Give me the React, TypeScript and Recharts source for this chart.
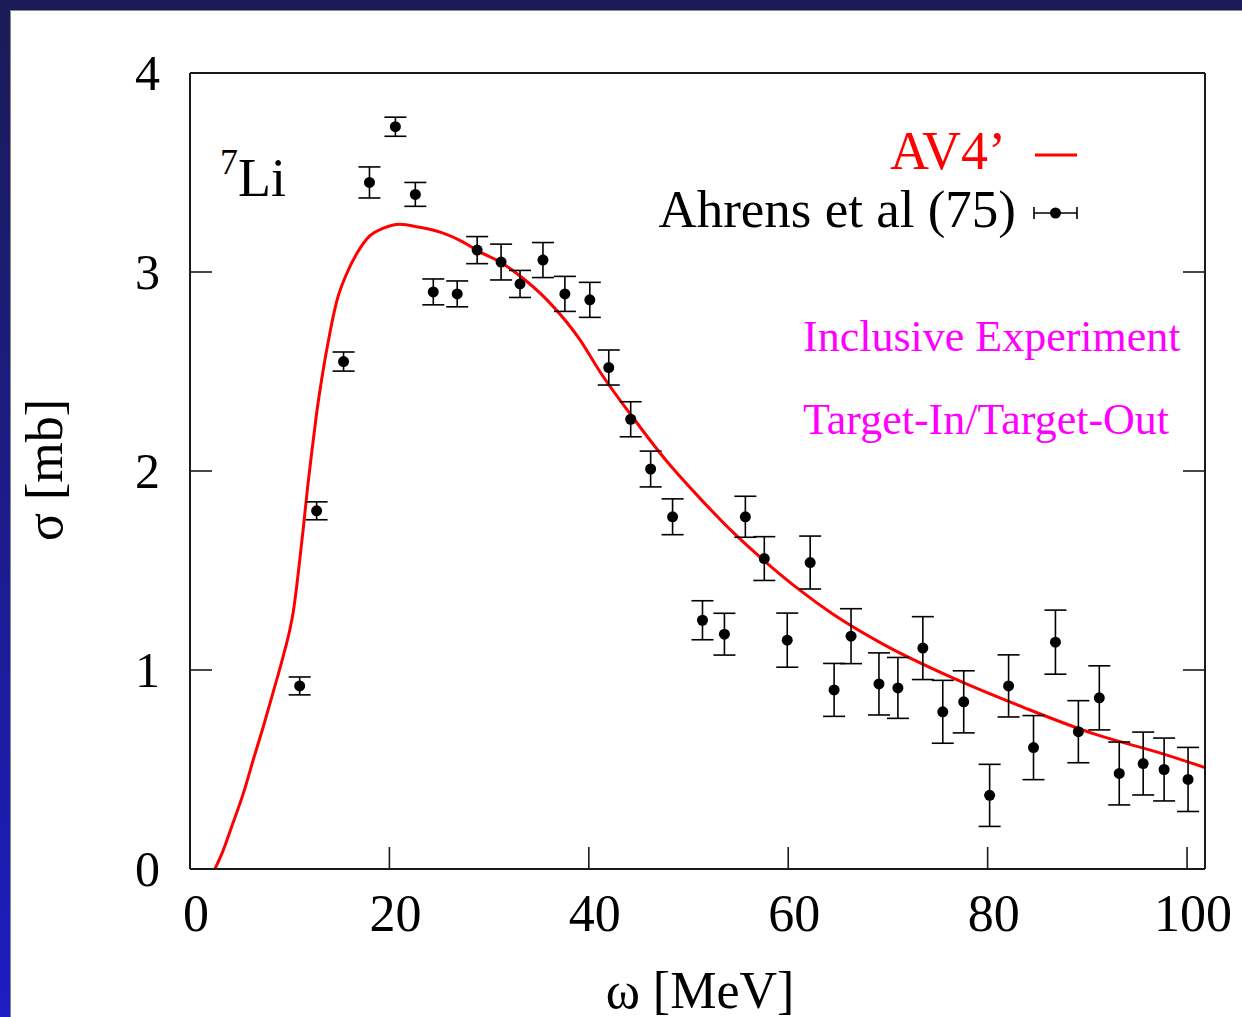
import React from 'react';
import {
  ComposedChart,
  Line,
  Scatter,
  ErrorBar,
  XAxis,
  YAxis,
  Legend,
} from 'recharts';

// Photo-absorption cross section of 7Li: Ahrens et al. (1975) data with AV4' calculation

const omegaData = [
  11.0, 12.7, 15.4, 18.0, 20.6, 22.6, 24.4, 26.8, 28.8, 31.2, 33.1, 35.4, 37.6, 40.1,
  42.0, 44.2, 46.2, 48.4, 51.4, 53.6, 55.7, 57.6, 59.9, 62.2, 64.6, 66.3, 69.1, 71.0,
  73.5, 75.5, 77.6, 80.2, 82.1, 84.6, 86.8, 89.1, 91.2, 93.2, 95.6, 97.7, 100.1,
];
const sigmaData = [
  0.92, 1.8, 2.55, 3.45, 3.73, 3.39, 2.9, 2.89, 3.11, 3.05, 2.94, 3.06, 2.89, 2.86,
  2.52, 2.26, 2.01, 1.77, 1.25, 1.18, 1.77, 1.56, 1.15, 1.54, 0.9, 1.17, 0.93, 0.91,
  1.11, 0.79, 0.84, 0.37, 0.92, 0.61, 1.14, 0.69, 0.86, 0.48, 0.53, 0.5, 0.45,
];
const sigmaErr = [
  0.045, 0.045, 0.048, 0.078, 0.048, 0.06, 0.065, 0.065, 0.068, 0.09, 0.068, 0.088, 0.088, 0.088,
  0.088, 0.088, 0.09, 0.09, 0.098, 0.105, 0.103, 0.11, 0.136, 0.133, 0.133, 0.138, 0.156, 0.153,
  0.158, 0.158, 0.156, 0.156, 0.156, 0.161, 0.161, 0.156, 0.161, 0.158, 0.158, 0.158, 0.161,
];

// AV4' theory curve
const omegaTheory = [
  2.5, 3.3, 4.3, 5.35, 6.35, 7.35, 8.35, 9.35, 10.0, 10.35, 10.7, 11.0, 11.4, 11.8, 12.2,
  12.7, 13.4, 13.9, 14.7, 15.7, 16.7, 18.0, 19.4, 21.0, 23.0, 25.1, 27.4, 29.1, 31.1, 33.1,
  35.8, 39.1, 41.1, 44.4, 47.8, 51.2, 54.5, 57.8, 61.2, 64.5, 69.5, 76.5, 83.7, 90.6, 97.5,
  101.8,
];
const sigmaTheory = [
  0, 0.09, 0.23, 0.38, 0.55, 0.715, 0.89, 1.07, 1.2, 1.29, 1.42, 1.55, 1.73, 1.92, 2.09,
  2.29, 2.52, 2.66, 2.85, 2.99, 3.09, 3.18, 3.22, 3.24, 3.225, 3.2, 3.15, 3.1, 3.05, 2.98,
  2.86, 2.66, 2.5, 2.27, 2.05, 1.86, 1.69, 1.54, 1.4, 1.28, 1.13, 0.96, 0.81, 0.68, 0.58,
  0.51,
];

const xTicks = [0, 20, 40, 60, 80, 100];
const yTicks = [0, 1, 2, 3, 4];
const xDomain: [number, number] = [0, 101.8];
const yDomain: [number, number] = [0, 4];

const expRows = omegaData.map((w, i) => ({ w, s: sigmaData[i], err: sigmaErr[i] }));
const theoryRows = omegaTheory.map((w, i) => ({ w, s: sigmaTheory[i] }));

const SERIF = '"Liberation Serif", "DejaVu Serif", "Times New Roman", serif';
const FRAME = '#1a1a1a';
const TICK_LEN = 22;

const BottomTick = (props: any) => {
  const { x, y, payload } = props;
  return (
    <g>
      <line x1={x} y1={y} x2={x} y2={y - TICK_LEN} stroke={FRAME} strokeWidth={1.6} />
      <text x={x + 6} y={y + 62} textAnchor="middle" fontFamily={SERIF} fontSize={52} fill="#000">
        {payload.value}
      </text>
    </g>
  );
};

const TopTick = (props: any) => {
  const { x, y } = props;
  return <line x1={x} y1={y} x2={x} y2={y + TICK_LEN} stroke={FRAME} strokeWidth={1.6} />;
};

const LeftTick = (props: any) => {
  const { x, y, payload } = props;
  return (
    <g>
      <line x1={x} y1={y} x2={x + TICK_LEN} y2={y} stroke={FRAME} strokeWidth={1.6} />
      <text x={x - 30} y={y + 17} textAnchor="end" fontFamily={SERIF} fontSize={50} fill="#000">
        {payload.value}
      </text>
    </g>
  );
};

const RightTick = (props: any) => {
  const { x, y } = props;
  return <line x1={x} y1={y} x2={x - TICK_LEN} y2={y} stroke={FRAME} strokeWidth={1.6} />;
};

const Dot = (props: any) => {
  const { cx, cy } = props;
  if (cx == null || cy == null) return null;
  return <circle cx={cx} cy={cy} r={5.5} fill="#000" />;
};

const LegendBox = () => (
  <div style={{ fontFamily: SERIF, width: 440 }}>
    <div style={{ position: 'relative', height: 58 }}>
      <span
        style={{ position: 'absolute', right: 74, top: 0, fontSize: 54, color: '#ff0000', lineHeight: '58px' }}
      >
        AV4’
      </span>
      <svg style={{ position: 'absolute', right: 0, top: 0 }} width={48} height={58}>
        <line x1={3} y1={33} x2={45} y2={33} stroke="#ff0000" strokeWidth={3} />
      </svg>
    </div>
    <div style={{ position: 'relative', height: 58 }}>
      <span
        style={{ position: 'absolute', right: 64, top: 0, fontSize: 53, color: '#000', lineHeight: '58px', whiteSpace: 'nowrap' }}
      >
        Ahrens et al (75)
      </span>
      <svg style={{ position: 'absolute', right: 0, top: 0 }} width={48} height={58}>
        <line x1={2} y1={33} x2={45} y2={33} stroke="#000" strokeWidth={1.6} />
        <line x1={2} y1={27} x2={2} y2={39} stroke="#000" strokeWidth={1.6} />
        <line x1={45} y1={27} x2={45} y2={39} stroke="#000" strokeWidth={1.6} />
        <circle cx={23.5} cy={33} r={5.5} fill="#000" />
      </svg>
    </div>
  </div>
);

export default function App() {
  return (
    <div
      style={{
        position: 'absolute',
        left: 0,
        top: 0,
        width: 1242,
        height: 1017,
        overflow: 'hidden',
        background: 'linear-gradient(to bottom, #1b1b57 0%, #1c1c8a 50%, #1d1dc2 100%)',
      }}
    >
      <div
        style={{
          position: 'absolute',
          left: 10,
          top: 10,
          right: 0,
          bottom: 0,
          background: '#ffffff',
          borderLeft: '1px solid #8a8a8a',
          borderTop: '1px solid #8a8a8a',
        }}
      />
      <div style={{ position: 'absolute', left: 0, top: 0 }}>
        <ComposedChart
          width={1242}
          height={1017}
          margin={{ top: 72, right: 36, bottom: 147, left: 189 }}
        >
          <XAxis
            xAxisId="bottom"
            dataKey="w"
            type="number"
            domain={xDomain}
            ticks={xTicks}
            allowDataOverflow
            height={1}
            tickSize={0}
            tickMargin={0}
            tickLine={false}
            axisLine={{ stroke: FRAME, strokeWidth: 2 }}
            tick={BottomTick}
            interval={0}
          />
          <XAxis
            xAxisId="top"
            orientation="top"
            type="number"
            domain={xDomain}
            ticks={xTicks}
            allowDataOverflow
            height={1}
            tickSize={0}
            tickMargin={0}
            tickLine={false}
            axisLine={{ stroke: FRAME, strokeWidth: 2 }}
            tick={TopTick}
            interval={0}
          />
          <YAxis
            yAxisId="left"
            type="number"
            domain={yDomain}
            ticks={yTicks}
            allowDataOverflow
            width={1}
            tickSize={0}
            tickMargin={0}
            tickLine={false}
            axisLine={{ stroke: FRAME, strokeWidth: 2 }}
            tick={LeftTick}
            interval={0}
          />
          <YAxis
            yAxisId="right"
            orientation="right"
            type="number"
            domain={yDomain}
            ticks={yTicks}
            allowDataOverflow
            width={1}
            tickSize={0}
            tickMargin={0}
            tickLine={false}
            axisLine={{ stroke: FRAME, strokeWidth: 2 }}
            tick={RightTick}
            interval={0}
          />
          <Line
            xAxisId="bottom"
            yAxisId="left"
            data={theoryRows}
            dataKey="s"
            type="monotone"
            stroke="#ff0000"
            strokeWidth={3}
            dot={false}
            activeDot={false}
            isAnimationActive={false}
          />
          <Scatter
            xAxisId="bottom"
            yAxisId="left"
            data={expRows}
            dataKey="s"
            shape={Dot}
            isAnimationActive={false}
          >
            <ErrorBar dataKey="err" direction="y" width={11} stroke="#000" strokeWidth={1.6} />
          </Scatter>
          <Legend
            content={LegendBox}
            layout="horizontal"
            verticalAlign="middle"
            align="center"
            wrapperStyle={{ position: 'absolute', left: 640, top: 122, width: 440, height: 120 }}
          />
        </ComposedChart>
      </div>

      {/* nucleus label */}
      <div style={{ position: 'absolute', left: 220, top: 147, fontFamily: SERIF, color: '#000', whiteSpace: 'nowrap' }}>
        <span style={{ fontSize: 36, position: 'relative', top: -22 }}>7</span>
        <span style={{ fontSize: 54 }}>Li</span>
      </div>

      {/* experiment notes */}
      <div style={{ position: 'absolute', left: 803, top: 312, fontFamily: SERIF, fontSize: 44, color: '#ff00ff', whiteSpace: 'nowrap', lineHeight: '50px' }}>
        Inclusive Experiment
      </div>
      <div style={{ position: 'absolute', left: 803, top: 395, fontFamily: SERIF, fontSize: 44, color: '#ff00ff', whiteSpace: 'nowrap', lineHeight: '50px' }}>
        Target-In/Target-Out
      </div>

      {/* axis titles */}
      <div
        style={{
          position: 'absolute',
          left: 44,
          top: 470,
          transform: 'translate(-50%, -50%) rotate(-90deg)',
          fontFamily: SERIF,
          fontSize: 52,
          color: '#000',
          whiteSpace: 'nowrap',
        }}
      >
        σ [mb]
      </div>
      <div
        style={{
          position: 'absolute',
          left: 700,
          top: 990,
          transform: 'translate(-50%, -50%)',
          fontFamily: SERIF,
          fontSize: 52,
          color: '#000',
          whiteSpace: 'nowrap',
        }}
      >
        ω [MeV]
      </div>
    </div>
  );
}
